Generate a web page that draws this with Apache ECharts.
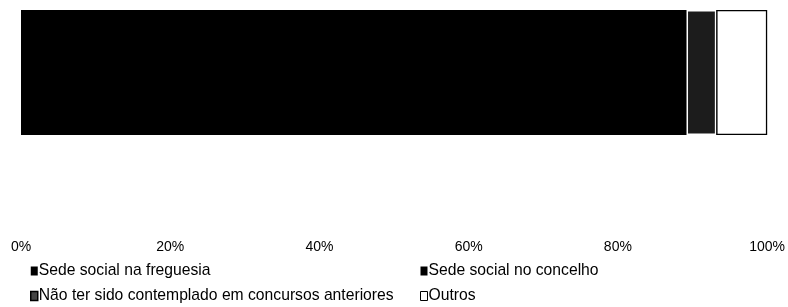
<!DOCTYPE html>
<html>
<head>
<meta charset="utf-8">
<script src="https://cdn.jsdelivr.net/npm/echarts@6/dist/echarts.min.js"></script>
<style>
html,body{margin:0;padding:0;background:#fff;}
#chart{width:788px;height:307px;}
</style>
</head>
<body>
<div id="chart"></div>
<script>
var categories = [''];
var seriesNames = ['Sede social na freguesia', 'Sede social no concelho', 'Não ter sido contemplado em concursos anteriores', 'Outros'];
var sedeFreguesia = [39.2];
var sedeConcelho = [50.0];
var naoContemplado = [4.0];
var outros = [6.8];
var tickLabels = ['0%', '20%', '40%', '60%', '80%', '100%'];

var FONT = '"Liberation Sans", Arial, sans-serif';
var chart = echarts.init(document.getElementById('chart'), null, {renderer: 'canvas'});

var styles = [
  {color: '#000', borderColor: '#000', borderWidth: 1},
  {color: '#000', borderColor: '#000', borderWidth: 1},
  {color: '#1c1c1c', borderColor: '#ffffff', borderWidth: 1.5},
  {color: '#ffffff', borderColor: '#000', borderWidth: 1.2}
];
var values = [sedeFreguesia, sedeConcelho, naoContemplado, outros];

var legendIcon = [
  {color: '#000', borderWidth: 0},
  {color: '#000', borderWidth: 0},
  {color: '#444', borderColor: '#000', borderWidth: 1.5},
  {color: '#fff', borderColor: '#000', borderWidth: 1}
];

function legendBlock(idxs, left) {
  return {
    orient: 'vertical',
    left: left,
    top: 263,
    padding: 0,
    itemWidth: 7,
    itemHeight: 9,
    itemGap: 9,
    icon: 'rect',
    selectedMode: false,
    textStyle: {fontFamily: FONT, fontSize: 15.7, color: '#000', lineHeight: 15, padding: [0, 0, 0, -4]},
    data: idxs.map(function (i) { return {name: seriesNames[i], itemStyle: legendIcon[i]}; })
  };
}

chart.setOption({
  animation: false,
  backgroundColor: '#fff',
  grid: {left: 21, right: 19, top: 10, height: 125, show: true, backgroundColor: '#000', borderWidth: 0},
  xAxis: {
    type: 'value',
    min: 0,
    max: 100,
    interval: 20,
    axisLine: {show: false},
    axisTick: {show: false},
    splitLine: {show: false},
    axisLabel: {
      margin: 105,
      fontFamily: FONT,
      fontSize: 14,
      color: '#000',
      formatter: function (v) { return tickLabels[Math.round(v / 20)]; }
    }
  },
  yAxis: {
    type: 'category',
    data: categories,
    axisLine: {show: false},
    axisTick: {show: false},
    axisLabel: {show: false}
  },
  legend: [legendBlock([0, 2], 30), legendBlock([1, 3], 420)],
  series: seriesNames.map(function (name, i) {
    return {
      name: name,
      type: 'bar',
      stack: 'total',
      barWidth: '100%',
      data: values[i],
      itemStyle: styles[i]
    };
  })
});
</script>
</body>
</html>
